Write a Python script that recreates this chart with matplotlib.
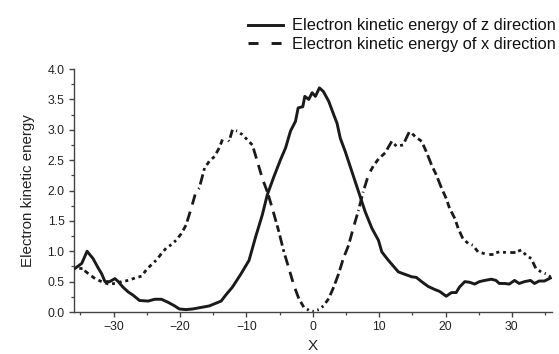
import matplotlib
matplotlib.use("Agg")
import matplotlib.pyplot as plt
import numpy as np
from matplotlib.collections import LineCollection
from matplotlib.lines import Line2D
from matplotlib.ticker import MultipleLocator

plt.rcParams['font.family'] = ['Liberation Sans', 'DejaVu Sans']
plt.rcParams['lines.scale_dashes'] = False

# Electron kinetic energy of z direction
z_x = [-35.8, -34.8, -34.0, -33.1, -32.3, -31.8, -31.3, -30.6, -29.8, -29.3, -28.6, -27.8,
       -27.1, -26.1, -24.8, -23.8, -22.8, -21.8, -20.8, -20.1, -19.1, -18.1, -17.1, -15.6,
       -13.8, -13.1, -12.1, -10.8, -9.6, -8.6, -7.6, -6.85, -5.85, -4.85, -4.1, -3.35,
       -2.6, -2.2, -1.5, -1.2, -0.6, -0.1, 0.4, 1.0, 1.6, 2.4, 3.15, 3.65, 4.15, 4.9,
       5.9, 6.9, 7.9, 8.9, 9.9, 10.4, 11.4, 12.9, 13.9, 14.9, 15.6, 16.4, 17.4, 18.4,
       19.1, 20.1, 20.9, 21.6, 22.1, 22.9, 23.6, 24.4, 25.1, 25.9, 26.9, 27.6, 28.1,
       28.9, 29.6, 30.4, 31.1, 31.9, 32.8, 33.4, 34.1, 34.9, 35.8]
z_y = [0.72, 0.80, 1.00, 0.88, 0.72, 0.63, 0.50, 0.50, 0.55, 0.50, 0.41, 0.33,
       0.28, 0.19, 0.18, 0.21, 0.21, 0.16, 0.10, 0.05, 0.04, 0.05, 0.07, 0.10,
       0.18, 0.28, 0.41, 0.63, 0.85, 1.24, 1.60, 1.93, 2.23, 2.51, 2.70, 2.98,
       3.14, 3.36, 3.38, 3.55, 3.50, 3.61, 3.55, 3.69, 3.63, 3.47, 3.25, 3.11, 2.86, 2.64,
       2.31, 1.98, 1.65, 1.38, 1.18, 0.99, 0.85, 0.66, 0.62, 0.58, 0.57, 0.50, 0.42, 0.37,
       0.34, 0.26, 0.32, 0.32, 0.41, 0.50, 0.49, 0.46, 0.50, 0.52, 0.54, 0.52, 0.47,
       0.47, 0.46, 0.52, 0.47, 0.50, 0.52, 0.47, 0.51, 0.51, 0.56]

# Electron kinetic energy of x direction
x_x = [-35.8, -34.8, -33.8, -32.8, -31.8, -30.8, -29.8, -28.8, -27.8, -26.8, -25.8, -25.1,
       -24.3, -23.6, -22.8, -22.1, -21.3, -20.6, -19.8, -19.1, -18.3, -17.6, -17.1, -16.3,
       -15.6, -14.8, -14.1, -13.6, -13.1, -12.6, -12.1, -11.4, -10.6, -9.9, -9.1, -8.35,
       -7.6, -6.85, -6.1, -5.1, -4.35, -3.6, -2.85, -2.1, -1.35, -0.6, 0.15, 0.9, 1.6,
       2.4, 3.15, 3.9, 4.6, 5.4, 6.1, 6.9, 7.6, 8.4, 9.1, 9.9, 10.9, 11.9, 12.6, 13.6,
       14.6, 15.4, 16.4, 17.1, 17.9, 18.6, 19.4, 20.1, 20.6, 21.4, 21.9, 22.6, 23.4,
       24.1, 24.9, 25.9, 27.1, 28.1, 29.1, 30.4, 31.4, 32.1, 32.9, 33.6, 34.4, 35.1, 35.8]
x_y = [0.72, 0.72, 0.63, 0.55, 0.50, 0.46, 0.47, 0.50, 0.52, 0.56, 0.59, 0.69,
       0.78, 0.85, 0.96, 1.05, 1.11, 1.18, 1.29, 1.43, 1.71, 1.98, 2.04, 2.37,
       2.48, 2.56, 2.70, 2.84, 2.87, 2.81, 3.00, 2.98, 2.92, 2.84, 2.75, 2.48,
       2.20, 1.98, 1.71, 1.32, 0.99, 0.72, 0.44, 0.22, 0.08, 0.03, 0.01, 0.04, 0.10,
       0.22, 0.41, 0.63, 0.88, 1.10, 1.38, 1.68, 1.98, 2.26, 2.40, 2.52, 2.62, 2.81, 2.73, 2.75,
       2.98, 2.89, 2.81, 2.64, 2.42, 2.26, 2.04, 1.87, 1.71, 1.54, 1.38, 1.21, 1.13,
       1.10, 0.99, 0.96, 0.96, 0.99, 0.98, 0.98, 1.02, 0.94, 0.88, 0.72, 0.66, 0.63, 0.58]

x_ticks = [-30, -20, -10, 0, 10, 20, 30]
y_ticks = [0.0, 0.5, 1.0, 1.5, 2.0, 2.5, 3.0, 3.5, 4.0]
label_z = "Electron kinetic energy of z direction"
label_x = "Electron kinetic energy of x direction"

fig = plt.figure(figsize=(5.59, 3.54), dpi=100)
ax = fig.add_axes([0.132, 0.1186, 0.855, 0.6864])

ink = '#1a1a1a'
ax.plot(z_x, z_y, color=ink, lw=2.1, solid_joinstyle='round', zorder=3)

pts = np.column_stack([x_x, x_y])
segs = np.stack([pts[:-1], pts[1:]], axis=1)
L, g = 7.5, 2.7
lc = LineCollection(segs, colors=ink, linewidths=2.0, linestyles=[(L, (L, g))],
                    capstyle='butt', zorder=3)
ax.add_collection(lc)

ax.set_xlim(-36, 36)
ax.set_ylim(0, 4.0)
ax.set_xticks(x_ticks)
ax.set_yticks(y_ticks)
ax.set_yticklabels([f"{v:.1f}" for v in y_ticks])
ax.xaxis.set_minor_locator(MultipleLocator(5))
ax.yaxis.set_minor_locator(MultipleLocator(0.25))
for s in ['top', 'right']:
    ax.spines[s].set_visible(False)
for s in ['left', 'bottom']:
    ax.spines[s].set_color('#444444')
    ax.spines[s].set_linewidth(1.0)
ax.tick_params(which='major', direction='out', length=3.6, width=1.0, color='#444444',
               labelsize=8.8, labelcolor='#222222', pad=3)
ax.tick_params(which='minor', direction='out', length=2.2, width=0.9, color='#444444')
ax.set_xlabel("X", fontsize=11, color='#222222', labelpad=4)
ax.set_ylabel("Electron kinetic energy", fontsize=10.9, color='#222222', labelpad=9)

h1 = Line2D([], [], color=ink, lw=2.1)
h2 = Line2D([], [], color=ink, lw=2.1, linestyle=(0, (7.2, 9.4)), dash_capstyle='butt')
fig.legend([h1, h2], [label_z, label_x], loc='upper right', bbox_to_anchor=(1.02, 0.99),
           frameon=False, fontsize=11.8, handlelength=2.13, handletextpad=0.5,
           labelspacing=0.2, labelcolor='#111111')

fig.savefig("out.png", dpi=100)
